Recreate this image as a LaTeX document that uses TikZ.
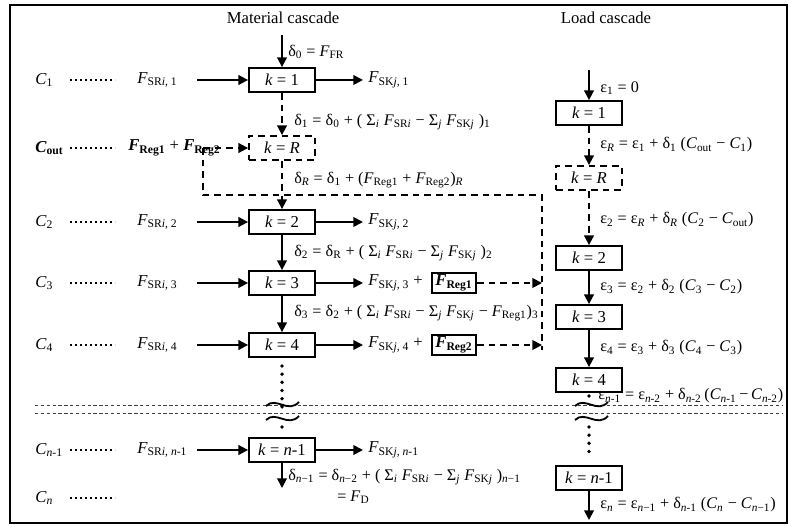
\documentclass[tikz,border=0pt]{standalone}
\usepackage{fontspec}
\setmainfont{Liberation Serif}
\usetikzlibrary{arrows.meta}
\newcommand{\sbs}[1]{\textsubscript{#1}}
\newcommand{\Fi}{\textit{F}}
\newcommand{\Ci}{\textit{C}}
\newcommand{\Rg}[1]{\textbf{\textit{F}\sbs{Reg#1}}}
\begin{document}
\begin{tikzpicture}[x=0.6pt,y=-0.6pt,>={Triangle[length=5.8pt,width=5.8pt]},font=\fontsize{10}{12}\selectfont,
	kbox/.style={draw,line width=1.1pt,minimum width=39.6pt,minimum height=14.4pt,inner sep=0pt},
	dkbox/.style={kbox,dash pattern=on 4pt off 3pt},
	regbox/.style={draw,line width=1.1pt,minimum width=26.4pt,minimum height=12pt,inner sep=0pt},
	txt/.style={anchor=west,inner sep=0pt},
	eqn/.style={txt,font=\fontsize{9.7}{11}\selectfont},
	flow/.style={->,line width=1.1pt},
	dflow/.style={line width=1.1pt,dash pattern=on 4pt off 3pt},
	leader/.style={line width=1.2pt,dash pattern=on 1.2pt off 1.8pt},
	vdots/.style={line width=2.3pt,line cap=round,dash pattern=on 0pt off 4.9pt},
	brk/.style={line width=0.5pt,black!75,dash pattern=on 2pt off 1.5pt}]
	\useasboundingbox (0,0) rectangle (790,526);
	\draw[line width=1.2pt] (10,5) rectangle (787,523);
	% titles
	\node (mtitle) at (283,18) {Material cascade};
	\node (ltitle) at (606,18) {Load cascade};
	% material cascade
	\node[kbox] (m1) at (282,80) {\textit{k} = 1};
	\node[dkbox] (mR) at (282,148) {\textit{k} = \textit{R}};
	\node[kbox] (m2) at (282,222) {\textit{k} = 2};
	\node[kbox] (m3) at (282,283) {\textit{k} = 3};
	\node[kbox] (m4) at (282,345) {\textit{k} = 4};
	\node[kbox] (mn) at (282,450) {\textit{k} = \textit{n}-1};
	\coordinate (m0) at (282,35);
	\coordinate (mend) at (282,488);
	\draw[flow] (m0) -- (m1);
	\draw[dflow,->] (m1) -- (mR);
	\draw[dflow,->] (mR) -- (m2);
	\draw[flow] (m2) -- (m3);
	\draw[flow] (m3) -- (m4);
	\draw[flow] (mn) -- (mend);
	\node[eqn] (d0) at (288,52) {δ\sbs{0} = \Fi\sbs{FR}};
	\node[eqn] (d1) at (294,122) {δ\sbs{1} = δ\sbs{0} + ( Σ\sbs{\textit{i}} \Fi\sbs{SR\textit{i}} − Σ\sbs{\textit{j}} \Fi\sbs{SK\textit{j}} )\sbs{1}};
	\node[eqn] (dR) at (294,180) {δ\sbs{\textit{R}} = δ\sbs{1} + (\Fi\sbs{Reg1} + \Fi\sbs{Reg2})\sbs{\textit{R}}};
	\node[eqn] (d2) at (294,253) {δ\sbs{2} = δ\sbs{R} + ( Σ\sbs{\textit{i}} \Fi\sbs{SR\textit{i}} − Σ\sbs{\textit{j}} \Fi\sbs{SK\textit{j}} )\sbs{2}};
	\node[eqn] (d3) at (294,313) {δ\sbs{3} = δ\sbs{2} + ( Σ\sbs{\textit{i}} \Fi\sbs{SR\textit{i}} − Σ\sbs{\textit{j}} \Fi\sbs{SK\textit{j}} − \Fi\sbs{Reg1})\sbs{3}};
	\node[eqn] (dn) at (288,477) {δ\sbs{\textit{n}−1} = δ\sbs{\textit{n}−2} + ( Σ\sbs{\textit{i}} \Fi\sbs{SR\textit{i}} − Σ\sbs{\textit{j}} \Fi\sbs{SK\textit{j}} )\sbs{\textit{n}−1}};
	\node[eqn] (fd) at (337,497) {= \Fi\sbs{D}};
	% streams in
	\node[txt] (c1) at (35,80) {\Ci\sbs{1}};
	\node[txt] (cout) at (35,148) {\textbf{\textit{C}\sbs{out}}};
	\node[txt] (c2) at (35,222) {\Ci\sbs{2}};
	\node[txt] (c3) at (35,283) {\Ci\sbs{3}};
	\node[txt] (c4) at (35,345) {\Ci\sbs{4}};
	\node[txt] (cn1) at (35,450) {\Ci\sbs{\textit{n}-1}};
	\node[txt] (cn) at (35,498) {\Ci\sbs{\textit{n}}};
	\draw[leader] (70,80) -- (115,80);
	\draw[leader] (70,148) -- (115,148);
	\draw[leader] (70,222) -- (115,222);
	\draw[leader] (70,283) -- (115,283);
	\draw[leader] (70,345) -- (115,345);
	\draw[leader] (70,450) -- (115,450);
	\draw[leader] (70,498) -- (115,498);
	\node[txt] (sr1) at (137,80) {\Fi\sbs{SR\textit{i}, 1}};
	\node[txt] (reg) at (128,148) {\Rg{1} + \Rg{2}};
	\node[txt] (sr2) at (137,222) {\Fi\sbs{SR\textit{i}, 2}};
	\node[txt] (sr3) at (137,283) {\Fi\sbs{SR\textit{i}, 3}};
	\node[txt] (sr4) at (137,345) {\Fi\sbs{SR\textit{i}, 4}};
	\node[txt] (srn) at (137,450) {\Fi\sbs{SR\textit{i}, \textit{n}-1}};
	\coordinate (a1) at (197,80);
	\coordinate (a2) at (197,222);
	\coordinate (a3) at (197,283);
	\coordinate (a4) at (197,345);
	\coordinate (an) at (197,450);
	\draw[flow] (a1) -- (m1);
	\draw[flow] (a2) -- (m2);
	\draw[flow] (a3) -- (m3);
	\draw[flow] (a4) -- (m4);
	\draw[flow] (an) -- (mn);
	% streams out
	\node[txt] (sk1) at (368,80) {\Fi\sbs{SK\textit{j}, 1}};
	\node[txt] (sk2) at (368,222) {\Fi\sbs{SK\textit{j}, 2}};
	\node[txt] (sk3) at (368,283) {\Fi\sbs{SK\textit{j}, 3} +};
	\node[txt] (sk4) at (368,345) {\Fi\sbs{SK\textit{j}, 4} +};
	\node[txt] (skn) at (368,450) {\Fi\sbs{SK\textit{j}, \textit{n}-1}};
	\draw[flow,shorten >=3pt] (m1) -- (sk1.west |- m1);
	\draw[flow,shorten >=3pt] (m2) -- (sk2.west |- m2);
	\draw[flow,shorten >=3pt] (m3) -- (sk3.west |- m3);
	\draw[flow,shorten >=3pt] (m4) -- (sk4.west |- m4);
	\draw[flow,shorten >=3pt] (mn) -- (skn.west |- mn);
	\node[regbox] (rg1) at (454,283) {\Rg{1}};
	\node[regbox] (rg2) at (454,345) {\Rg{2}};
	% regeneration loop
	\coordinate (lp0) at (203,148);
	\coordinate (lp1) at (203,195);
	\coordinate (lp2) at (542,195);
	\coordinate (lp3) at (542,350);
	\coordinate (t1) at (542,283);
	\coordinate (t2) at (542,345);
	\draw[dflow,->] (lp0) -- (mR);
	\draw[dflow] (lp0) -- (lp1) -- (lp2) -- (lp3);
	\draw[dflow,->] (rg1) -- (t1);
	\draw[dflow,->] (rg2) -- (t2);
	% load cascade
	\node[kbox] (l1) at (589,113) {\textit{k} = 1};
	\node[dkbox] (lR) at (589,178) {\textit{k} = \textit{R}};
	\node[kbox] (l2) at (589,258) {\textit{k} = 2};
	\node[kbox] (l3) at (589,317) {\textit{k} = 3};
	\node[kbox] (l4) at (589,380) {\textit{k} = 4};
	\node[kbox] (ln) at (589,478) {\textit{k} = \textit{n}-1};
	\coordinate (l0) at (589,70);
	\coordinate (lend) at (589,520);
	\draw[flow] (l0) -- (l1);
	\draw[dflow,->] (l1) -- (lR);
	\draw[dflow,->] (lR) -- (l2);
	\draw[flow] (l2) -- (l3);
	\draw[flow] (l3) -- (l4);
	\draw[flow] (ln) -- (lend);
	\node[eqn] (e1) at (600,88) {ε\sbs{1} = 0};
	\node[eqn] (eR) at (600,145) {ε\sbs{\textit{R}} = ε\sbs{1} + δ\sbs{1} (\Ci\sbs{out} − \Ci\sbs{1})};
	\node[eqn] (e2) at (600,220) {ε\sbs{2} = ε\sbs{\textit{R}} + δ\sbs{\textit{R}} (\Ci\sbs{2} − \Ci\sbs{out})};
	\node[eqn] (e3) at (600,287) {ε\sbs{3} = ε\sbs{2} + δ\sbs{2} (\Ci\sbs{3} − \Ci\sbs{2})};
	\node[eqn] (e4) at (600,348) {ε\sbs{4} = ε\sbs{3} + δ\sbs{3} (\Ci\sbs{4} − \Ci\sbs{3})};
	\node[eqn] (en1) at (598,396) {ε\sbs{\textit{n}-1} = ε\sbs{\textit{n}-2} + δ\sbs{\textit{n}-2}\,(\Ci\sbs{\textit{n}-1}\,−\,\Ci\sbs{\textit{n}-2})};
	\node[eqn] (en) at (600,505) {ε\sbs{\textit{n}} = ε\sbs{\textit{n}−1} + δ\sbs{\textit{n}-1} (\Ci\sbs{\textit{n}} − \Ci\sbs{\textit{n}−1})};
	% break between k = 4 and k = n-1
	\draw[brk] (35,405) -- (782,405);
	\draw[brk] (35,413) -- (782,413);
	\draw[vdots] (282,366) -- (282,407);
	\draw[vdots] (282,427) -- (282,435);
	\draw[line width=1.1pt] (266,406) .. controls (276,396) and (288,414) .. (299,402);
	\draw[line width=1.1pt] (266,420) .. controls (276,410) and (288,428) .. (299,416);
	\draw[vdots] (589,396) -- (589,397);
	\draw[vdots] (589,427) -- (589,459);
	\draw[line width=1.1pt] (575,406) .. controls (585,396) and (597,414) .. (608,402);
	\draw[line width=1.1pt] (575,420) .. controls (585,410) and (597,428) .. (608,416);
\end{tikzpicture}
\end{document}
